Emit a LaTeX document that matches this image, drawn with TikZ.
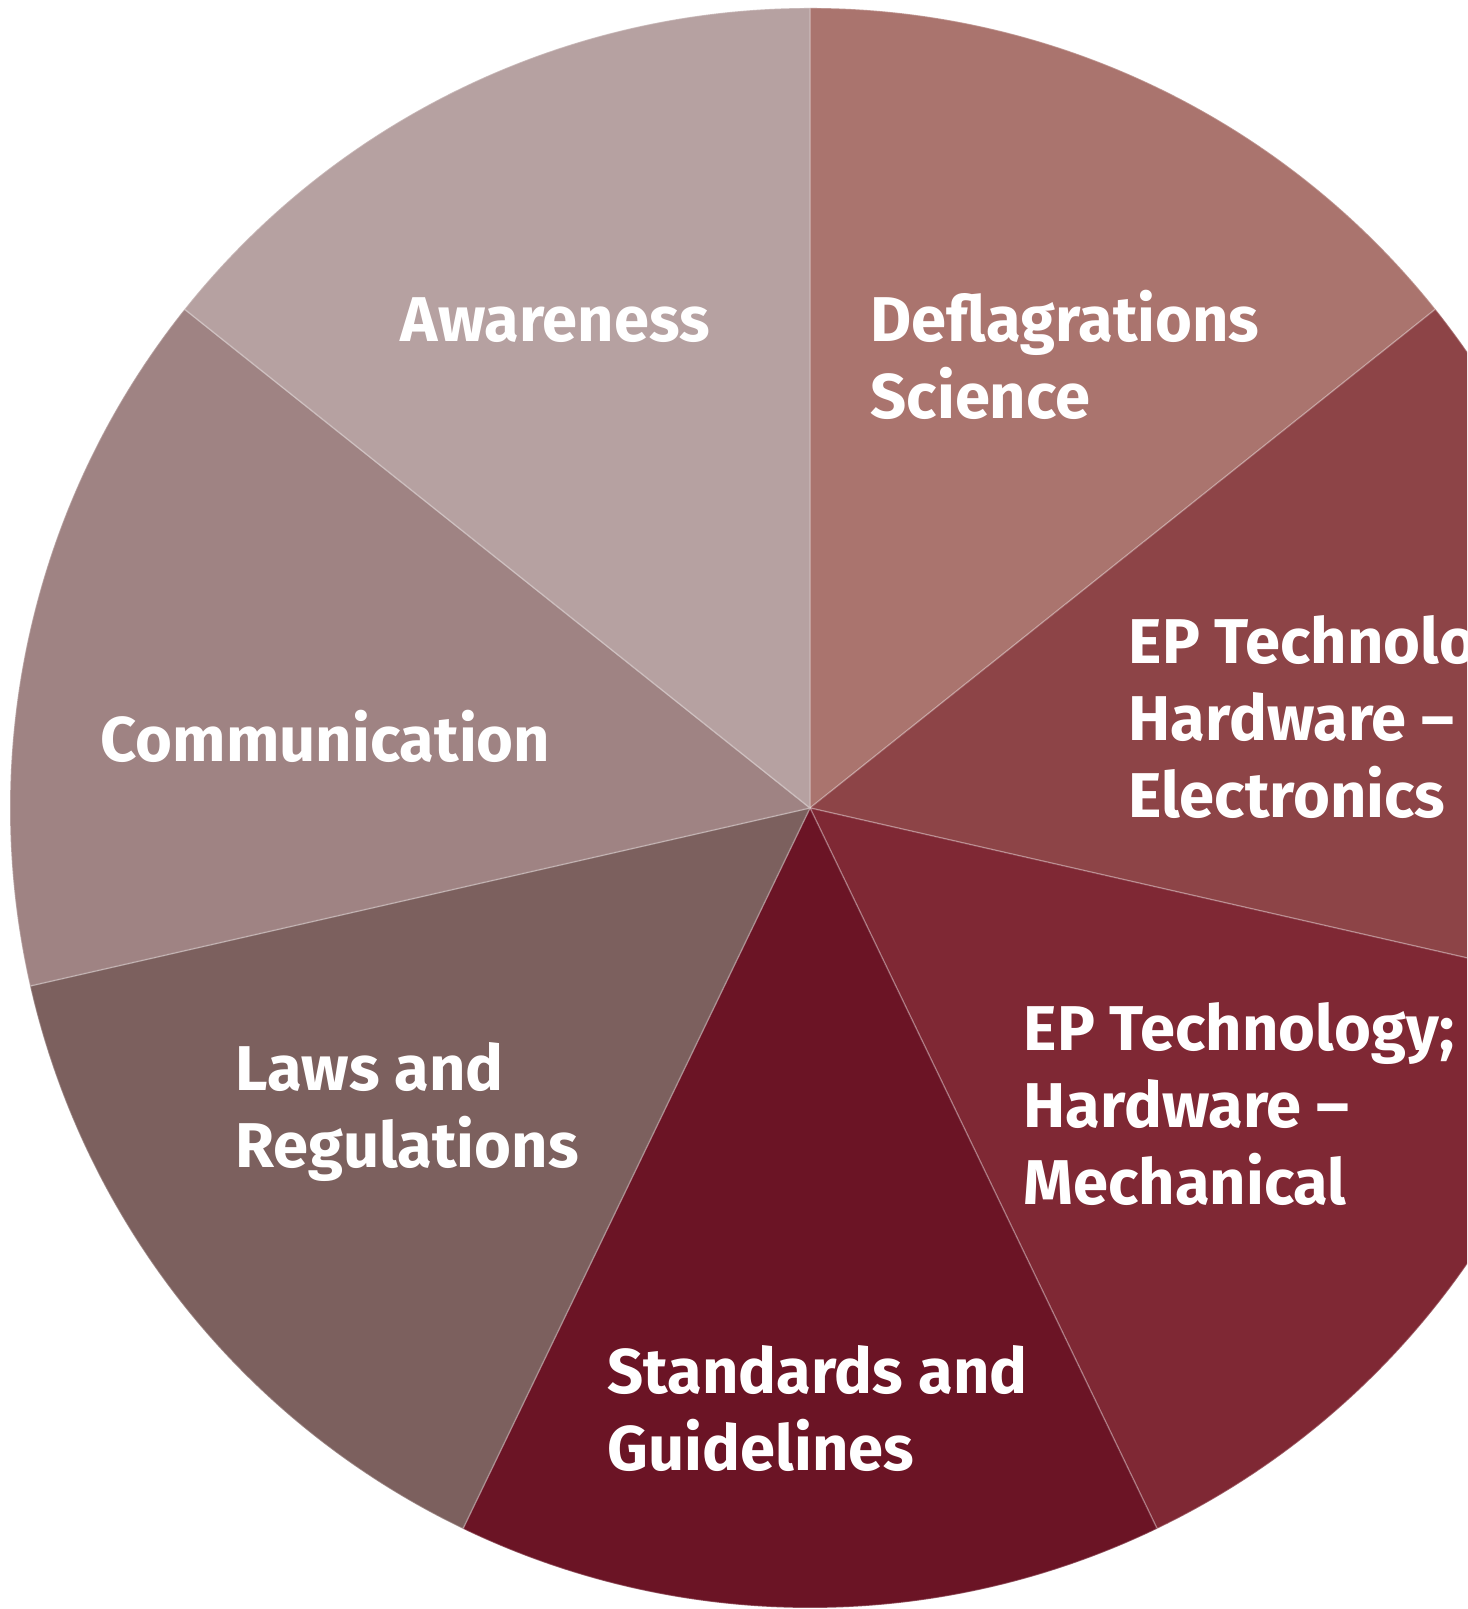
\documentclass[tikz,border=0pt]{standalone}
\usepackage{fontspec}
\setmainfont{Fira Sans}
\usepackage{tikz}
\usetikzlibrary{positioning}
\definecolor{colordefl}  {RGB}{170,116,110}
\definecolor{colorelec}  {RGB}{141, 68, 71}
\definecolor{colormech}  {RGB}{127, 40, 52}
\definecolor{colorstand} {RGB}{107, 20, 37}
\definecolor{colorlaws}  {RGB}{124, 96, 94}
\definecolor{colorcomm}  {RGB}{159,131,131}
\definecolor{colorawar}  {RGB}{182,161,161}
\definecolor{colortext}  {RGB}{255,255,255}

\begin{document}
\begin{tikzpicture}[
    label/.style={text=colortext,font={\fontsize{18}{22}\selectfont\bfseries},
        align=left,anchor=base west,inner sep=0pt},
    slice/.style={draw=white,draw opacity=0.25,line width=0.4pt}
]
    \useasboundingbox (0,0) rectangle (14.67,16.09);
    \clip (0,0) rectangle (14.67,16.09);
    \coordinate (ctr) at (8.10,8.01);

    % Pie slices, clockwise from the top
    \foreach \col [count=\i from 0] in {colordefl,colorelec,colormech,colorstand,colorlaws,colorcomm,colorawar}
        \filldraw[slice,fill=\col] (ctr) -- ++(90-\i*360/7:8) arc[start angle=90-\i*360/7, end angle=90-\i*360/7-360/7, radius=8] -- cycle;

    % Labels (base is the last line)
    \node[label] (awar) at (4.00,12.67) {Awareness};
    \node[label] (defl) at (8.70,11.90) {Deflagrations\\Science};
    \node[label] (elec) at (11.28,7.91) {EP Technology;\\Hardware –\\Electronics};
    \node[label] (comm) at (1.00,8.47) {Communication};
    \node[label] (laws) at (2.35,4.41) {Laws and\\Regulations};
    \node[label] (mech) at (10.23,4.04) {EP Technology;\\Hardware –\\Mechanical};
    \node[label] (stand) at (6.07,1.38) {Standards and\\Guidelines};

\end{tikzpicture}
\end{document}
